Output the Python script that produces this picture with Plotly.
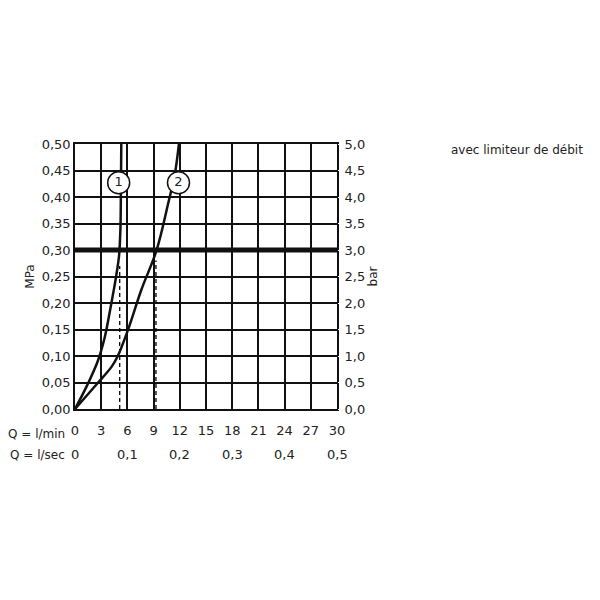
import plotly.graph_objects as go

# curve 1 (l/min, MPa)
c1_q = [0, 1.4, 2.6, 3.4, 4.0, 4.5, 4.8, 5.05, 5.2, 5.26, 5.3]
c1_p = [0, 0.045, 0.09, 0.135, 0.185, 0.23, 0.26, 0.29, 0.34, 0.42, 0.5]
# curve 2
c2_q = [0, 2.6, 4.2, 4.9, 6.08, 7.6, 9.35, 10.7, 11.4, 11.9]
c2_p = [0, 0.049, 0.08, 0.1, 0.15, 0.225, 0.30, 0.39, 0.44, 0.5]
dash_q = [5.12, 9.27]
dash_top = [0.27, 0.28]
lmin_ticks = [0, 3, 6, 9, 12, 15, 18, 21, 24, 27, 30]
lsec_labels = ["0", "0,1", "0,2", "0,3", "0,4", "0,5"]
mpa_ticks = [i * 0.05 for i in range(11)]

font = dict(family="DejaVu Sans", size=13, color="#222")
fig = go.Figure()
for q, top in zip(dash_q, dash_top):
    fig.add_trace(go.Scatter(x=[q, q], y=[0, top], mode="lines",
                             line=dict(color="black", width=1.3, dash="4px,3px")))
for q, p in [(c1_q, c1_p), (c2_q, c2_p)]:
    fig.add_trace(go.Scatter(x=q, y=p, mode="lines",
                             line=dict(color="#111", width=2.5, shape="spline", smoothing=1)))
fig.add_trace(go.Scatter(x=[0, 30], y=[0.3, 0.3], mode="lines", line=dict(color="#111", width=5)))
fig.add_trace(go.Scatter(x=[5.0, 11.85], y=[0.427, 0.427], mode="markers+text", text=["1", "2"],
                         marker=dict(size=22, color="white", line=dict(color="#111", width=1.5)),
                         textfont=font, textposition="middle center"))
# dummy trace for right axis
fig.add_trace(go.Scatter(x=[0], y=[0], yaxis="y2", mode="markers", marker=dict(opacity=0)))

fig.update_layout(
    width=600, height=600, showlegend=False, plot_bgcolor="white", paper_bgcolor="white",
    margin=dict(l=67, r=271, t=136, b=199), font=font,
    xaxis=dict(range=[0, 30], tickvals=lmin_ticks, ticktext=[str(t) for t in lmin_ticks],
               showgrid=True, gridcolor="#111", gridwidth=1.5, zeroline=False, automargin=False,
               showline=True, linecolor="#111", linewidth=1.5, mirror=True,
               ticks="outside", ticklen=9, tickcolor="white"),
    yaxis=dict(range=[0, 0.5], tickvals=mpa_ticks, ticktext=[f"{v:.2f}".replace(".", ",") for v in mpa_ticks],
               showgrid=True, gridcolor="#111", gridwidth=1.5, zeroline=False, automargin=False,
               showline=True, linecolor="#111", linewidth=1.5, mirror=True,
               title=dict(text="MPa", standoff=4, font=dict(size=12))),
    yaxis2=dict(range=[0, 5], overlaying="y", side="right", tickvals=[i * 0.5 for i in range(11)],
                ticktext=[f"{i*0.5:.1f}".replace(".", ",") for i in range(11)], showgrid=False,
                zeroline=False, automargin=False, ticks="outside", ticklen=4, tickcolor="white",
                title=dict(text="bar", standoff=4, font=dict(size=12))),
)
fig.add_annotation(text="Q = l/min", x=0, y=-0.095, yshift=-9, xref="paper", yref="paper",
                   xanchor="right", xshift=-8, font=dict(size=12), showarrow=False)
fig.add_annotation(text="Q = l/sec", x=0, y=-0.175, yshift=-9, xref="paper", yref="paper",
                   xanchor="right", xshift=-8, font=dict(size=12), showarrow=False)
for i, lab in enumerate(lsec_labels):
    fig.add_annotation(text=lab, x=i * 6, y=-0.175, yshift=-9, xref="x", yref="paper", showarrow=False)
fig.add_annotation(text="avec limiteur de débit", xref="paper", yref="paper",
                   x=1.0, xanchor="left", xshift=112, y=1.0, yanchor="middle", yshift=-6,
                   font=dict(size=12), showarrow=False)
fig.write_html("out.html")
